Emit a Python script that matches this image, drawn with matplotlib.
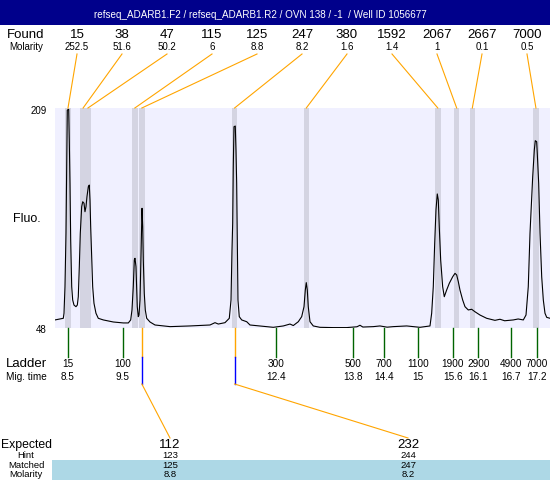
import matplotlib
matplotlib.use('Agg')
import matplotlib.pyplot as plt
from matplotlib.patches import Rectangle

plt.rcParams['font.family'] = ['Liberation Sans', 'DejaVu Sans']

title = 'refseq_ADARB1.F2 / refseq_ADARB1.R2 / OVN 138 / -1  / Well ID 1056677'

# peaks found (size bp, molarity, migration time)
found_sizes = [15, 38, 47, 115, 125, 247, 380, 1592, 2067, 2667, 7000]
found_molarity = [252.5, 51.6, 50.2, 6, 8.8, 8.2, 1.6, 1.4, 1, 0.1, 0.5]
found_times = [8.50, 8.78, 8.87, 9.74, 9.87, 11.59, 12.92, 15.36, 15.71, 16.00, 17.18]

# ladder
ladder_sizes = [15, 100, 300, 500, 700, 1100, 1900, 2900, 4900, 7000]
ladder_times = [8.50, 9.52, 12.36, 13.79, 14.36, 14.99, 15.64, 16.11, 16.72, 17.20]

# expected fragments
expected = [112, 232]
hint = [123, 244]
matched = [125, 247]
matched_molarity = [8.8, 8.2]
matched_times = [9.87, 11.59]

fluo_min, fluo_max = 48, 209
t_min, t_max = 8.259, 17.441

# electropherogram trace (time, fluo)
trace_t = [8.259, 8.413, 8.426, 8.444, 8.463, 8.476, 8.487, 8.513, 8.524, 8.537,
           8.550, 8.569, 8.587, 8.611, 8.648, 8.673, 8.691, 8.710, 8.728, 8.754,
           8.773, 8.797, 8.815, 8.834, 8.852, 8.877, 8.895, 8.908, 8.921, 8.940,
           8.958, 8.982, 9.019, 9.062, 9.155, 9.340, 9.526, 9.619, 9.663, 9.687,
           9.711, 9.730, 9.743, 9.761, 9.774, 9.785, 9.804, 9.817, 9.836, 9.849,
           9.860, 9.873, 9.886, 9.897, 9.915, 9.934, 9.960, 10.021, 10.114, 10.392,
           10.763, 11.134, 11.227, 11.288, 11.412, 11.492, 11.524, 11.542, 11.555, 11.566,
           11.579, 11.603, 11.616, 11.629, 11.640, 11.653, 11.677, 11.722, 11.815, 11.876,
           12.061, 12.308, 12.494, 12.618, 12.679, 12.772, 12.835, 12.878, 12.902, 12.920,
           12.939, 12.957, 12.989, 13.050, 13.174, 13.421, 13.670, 13.860, 13.916, 13.970,
           14.163, 14.287, 14.420, 14.534, 14.783, 15.029, 15.215, 15.246, 15.276, 15.302,
           15.326, 15.350, 15.369, 15.387, 15.413, 15.450, 15.480, 15.524, 15.573, 15.636,
           15.679, 15.710, 15.740, 15.771, 15.821, 15.864, 15.925, 15.988, 16.049, 16.142,
           16.266, 16.420, 16.513, 16.600, 16.760, 16.850, 16.946, 16.996, 17.038, 17.070,
           17.120, 17.150, 17.168, 17.194, 17.205, 17.231, 17.256, 17.287, 17.317, 17.348,
           17.380, 17.441]
trace_f = [53.9, 55.1, 58.8, 78.2, 117.3, 166.0, 207.5, 208.0, 185.6, 153.9,
           112.4, 78.2, 68.5, 64.8, 63.6, 64.8, 70.9, 92.9, 117.3, 136.8,
           140.4, 139.3, 133.1, 136.8, 144.1, 151.4, 152.6, 141.7, 122.1, 100.2,
           78.2, 66.1, 58.8, 55.1, 53.9, 52.4, 51.7, 51.7, 53.9, 61.2,
           78.2, 97.8, 99.0, 92.9, 78.2, 63.6, 56.3, 57.5, 68.5, 92.9,
           117.3, 135.6, 122.1, 97.8, 73.4, 61.2, 55.1, 52.4, 50.2, 49.0,
           49.5, 50.2, 51.9, 50.9, 51.9, 55.1, 68.5, 105.1, 124.6, 166.0,
           195.3, 195.8, 178.3, 153.9, 117.3, 68.5, 56.3, 53.9, 52.6, 50.2,
           49.5, 48.5, 49.5, 50.9, 49.8, 52.6, 56.3, 63.6, 75.8, 81.2,
           75.8, 63.6, 52.6, 49.5, 48.5, 48.3, 48.3, 48.9, 50.0, 48.7,
           49.0, 49.5, 48.6, 49.0, 49.5, 48.5, 49.5, 58.8, 78.2, 110.0,
           134.4, 146.1, 141.7, 122.1, 97.8, 78.2, 70.9, 75.8, 80.7, 85.5,
           88.0, 86.8, 81.9, 75.8, 68.5, 63.6, 61.2, 61.7, 59.9, 57.5,
           55.1, 53.6, 54.4, 53.3, 53.9, 54.6, 53.9, 57.5, 78.2, 117.3,
           158.7, 178.3, 185.1, 184.3, 175.8, 153.9, 117.3, 85.5, 68.5, 58.8,
           55.8, 55.1]

W, H = 550, 480
fig = plt.figure(figsize=(W / 100, H / 100), dpi=100)

ax = fig.add_axes([55 / W, (H - 328) / H, 495 / W, 220 / H])
ax.set_facecolor('#f0f0ff')
ax.set_xlim(t_min, t_max)
ax.set_ylim(fluo_min, fluo_max)
ax.set_xticks([])
ax.set_yticks([])
for s in ax.spines.values():
    s.set_visible(False)

for t in found_times:
    ax.axvspan(t - 0.05, t + 0.05, color='#d4d4e2', lw=0)
ax.plot(trace_t, trace_f, color='black', lw=0.8)

# overlay in pixel coords for the annotations
ov = fig.add_axes([0, 0, 1, 1], facecolor='none')
ov.set_xlim(0, W)
ov.set_ylim(H, 0)
ov.axis('off')


def px(t):
    return ax.transData.transform((t, fluo_min))[0]


top_y = H - ax.transData.transform((t_min, fluo_max))[1]
bot_y = H - ax.transData.transform((t_min, fluo_min))[1]

# title bar
ov.add_patch(Rectangle((0, 0), W, 25, color='#00008b', lw=0))
ov.text(260, 18, title, color='white', ha='center', va='baseline', fontsize=7.1)

# found row
ov.text(26, 38, 'Found', ha='center', va='baseline', fontsize=9.5)
ov.text(26, 50, 'Molarity', ha='center', va='baseline', fontsize=7)
for i, (sz, mol, t) in enumerate(zip(found_sizes, found_molarity, found_times)):
    lx = 77 + 45 * i
    ov.text(lx, 38, str(sz), ha='center', va='baseline', fontsize=9.5)
    ov.text(lx, 50, '%g' % mol, ha='center', va='baseline', fontsize=7)
    ov.plot([lx, px(t)], [54, top_y], color='#ffa500', lw=0.8)

# y labels
ov.text(47, 114, str(fluo_max), ha='right', va='baseline', fontsize=7)
ov.text(47, 333, str(fluo_min), ha='right', va='baseline', fontsize=7)
ov.text(27, 222, 'Fluo.', ha='center', va='baseline', fontsize=9)

# ladder row
ov.text(26, 367, 'Ladder', ha='center', va='baseline', fontsize=9.5)
ov.text(26, 380, 'Mig. time', ha='center', va='baseline', fontsize=7.2)
for sz, t in zip(ladder_sizes, ladder_times):
    x = px(t)
    ov.plot([x, x], [bot_y, 357], color='#006400', lw=1)
    ov.text(x, 367, str(sz), ha='center', va='baseline', fontsize=7.2)
    ov.text(x, 380, '%g' % round(t, 1), ha='center', va='baseline', fontsize=7.2)

# expected table
ov.add_patch(Rectangle((52, 460), W - 52, 20, color='#add8e6', lw=0))
ov.text(26, 448, 'Expected', ha='center', va='baseline', fontsize=8.8)
ov.text(26, 458.5, 'Hint', ha='center', va='baseline', fontsize=6.8)
ov.text(26, 468, 'Matched', ha='center', va='baseline', fontsize=6.8)
ov.text(26, 477, 'Molarity', ha='center', va='baseline', fontsize=6.8)
exp_x = [170, 408]
for ex, e, h, m, mm, t in zip(exp_x, expected, hint, matched, matched_molarity, matched_times):
    x = px(t)
    ov.plot([x, x], [bot_y, 357], color='#ffa500', lw=1)
    ov.plot([x, x], [357, 384], color='#0000ff', lw=1)
    ov.plot([x, ex], [384, 438], color='#ffa500', lw=0.8)
    ov.text(ex, 448, str(e), ha='center', va='baseline', fontsize=9.5)
    ov.text(ex, 458.5, str(h), ha='center', va='baseline', fontsize=6.8)
    ov.text(ex, 468, str(m), ha='center', va='baseline', fontsize=6.8)
    ov.text(ex, 477, '%g' % mm, ha='center', va='baseline', fontsize=6.8)

fig.savefig('out.png', dpi=100)
